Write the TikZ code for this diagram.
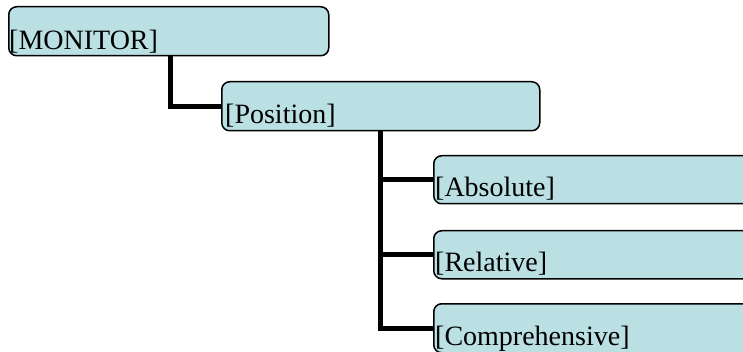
\documentclass[tikz,border=0pt]{standalone}
\usepackage{fontspec}
\setmainfont{Liberation Serif}
\usetikzlibrary{calc}
\definecolor{boxfill}{HTML}{BAE0E4}
\begin{document}
\begin{tikzpicture}[x=1pt,y=-1pt,
  box/.style={draw=black,line width=1.5pt,fill=boxfill,rounded corners=8pt,
    rectangle,anchor=north west,inner sep=0pt},
  lbl/.style={anchor=base west,inner sep=0pt,font=\fontsize{28}{33}\selectfont},
  conn/.style={line width=5pt,draw=black}]
\useasboundingbox (0,0) rectangle (743,352);
\clip (0,0) rectangle (743,352);
\node[box,minimum width=320pt,minimum height=49pt] (mon) at (8,6) {};
\node[box,minimum width=318pt,minimum height=49pt] (pos) at (221,81) {};
\node[box,minimum width=330pt,minimum height=48pt] (abs) at (433,155) {};
\node[box,minimum width=330pt,minimum height=48pt] (rel) at (433,230) {};
\node[box,minimum width=330pt,minimum height=49pt] (com) at (433,303) {};
\coordinate (c1) at ($(mon.south west)+(162,0)$);
\coordinate (c2) at ($(pos.south west)+(159,0)$);
\draw[conn] (c1) |- (pos.west);
\draw[conn] (c2) |- (com.west);
\draw[conn] (abs.west -| c2) -- (abs.west);
\draw[conn] (rel.west -| c2) -- (rel.west);
\node[lbl] (tmon) at ($(mon.south west)+(1,-7)$) {[MONITOR]};
\node[lbl] (tpos) at ($(pos.south west)+(4,-8)$) {[Position]};
\node[lbl] (tabs) at ($(abs.south west)+(2,-8)$) {[Absolute]};
\node[lbl] (trel) at ($(rel.south west)+(2,-8)$) {[Relative]};
\node[lbl] (tcom) at ($(com.south west)+(2,-8)$) {[Comprehensive]};
\end{tikzpicture}
\end{document}
